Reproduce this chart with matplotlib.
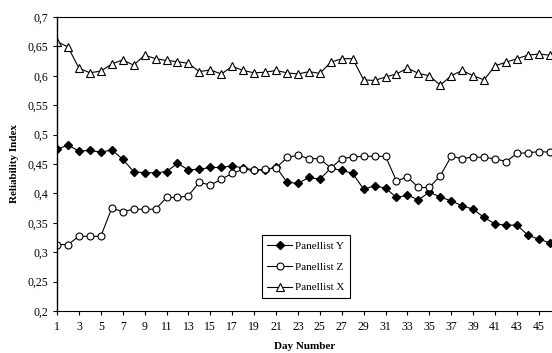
import numpy as np
import matplotlib
matplotlib.use("Agg")
import matplotlib.pyplot as plt

days = list(range(1, 47))
panellist_y = [0.475, 0.482, 0.472, 0.473, 0.470, 0.474, 0.458, 0.437, 0.435, 0.435,
               0.437, 0.451, 0.440, 0.441, 0.444, 0.444, 0.447, 0.443, 0.440, 0.440,
               0.445, 0.419, 0.417, 0.427, 0.424, 0.443, 0.439, 0.434, 0.407, 0.413,
               0.409, 0.393, 0.397, 0.389, 0.402, 0.394, 0.387, 0.379, 0.373, 0.359,
               0.348, 0.346, 0.346, 0.329, 0.322, 0.316]
panellist_z = [0.313, 0.313, 0.327, 0.327, 0.327, 0.375, 0.369, 0.373, 0.373, 0.373,
               0.393, 0.393, 0.396, 0.419, 0.414, 0.424, 0.434, 0.441, 0.439, 0.441,
               0.443, 0.461, 0.465, 0.459, 0.459, 0.443, 0.459, 0.462, 0.463, 0.463,
               0.463, 0.421, 0.428, 0.410, 0.410, 0.430, 0.463, 0.459, 0.462, 0.461,
               0.459, 0.454, 0.468, 0.469, 0.471, 0.470]
panellist_x = [0.658, 0.649, 0.613, 0.605, 0.608, 0.620, 0.627, 0.618, 0.635, 0.629,
               0.626, 0.624, 0.621, 0.607, 0.610, 0.603, 0.616, 0.609, 0.605, 0.606,
               0.609, 0.605, 0.603, 0.607, 0.604, 0.623, 0.629, 0.629, 0.593, 0.592,
               0.598, 0.603, 0.613, 0.604, 0.600, 0.584, 0.600, 0.609, 0.600, 0.593,
               0.617, 0.623, 0.629, 0.635, 0.637, 0.635]
y_ticks = [0.2, 0.25, 0.3, 0.35, 0.4, 0.45, 0.5, 0.55, 0.6, 0.65, 0.7]
x_ticks = list(range(1, 46, 2))

plt.rcParams['font.family'] = ['Liberation Serif', 'DejaVu Serif']

fig = plt.figure(figsize=(5.52, 3.53), dpi=100)
ax = fig.add_axes([0.1033, 0.119, 0.8967, 0.833])

ax.plot(days, panellist_y, color='black', lw=0.8, marker='D', ms=3.6,
        mfc='black', mec='black', label='Panellist Y')
ax.plot(days, panellist_z, color='black', lw=0.8, marker='o', ms=5,
        mfc='white', mec='black', mew=0.8, label='Panellist Z')
ax.plot(days, panellist_x, color='black', lw=0.8, marker='^', ms=5.5,
        mfc='white', mec='black', mew=0.8, label='Panellist X')

ax.set_xlim(1, 46.2)
ax.set_ylim(0.2, 0.7)
ax.set_yticks(y_ticks)
ax.set_yticklabels([('%g' % v).replace('.', ',') for v in y_ticks])
ax.set_xticks(x_ticks)
ax.tick_params(axis='both', labelsize=8.5, length=3, width=0.8, direction='out')
ax.tick_params(axis='x', pad=4)

ax.spines['right'].set_visible(False)
ax.spines['top'].set_linestyle((0, (1, 1)))
ax.spines['top'].set_linewidth(0.8)
ax.spines['left'].set_linewidth(1.0)
ax.spines['bottom'].set_linewidth(0.8)

ax.set_ylabel('Reliability Index', fontsize=8, fontweight='bold', labelpad=6)
ax.set_xlabel('Day Number', fontsize=8, fontweight='bold', labelpad=7)

leg = ax.legend(loc='lower left', bbox_to_anchor=(0.414, 0.044), fontsize=8,
                frameon=True, fancybox=False, edgecolor='black', framealpha=1,
                handlelength=2.2, handletextpad=0.3, borderpad=0.5,
                labelspacing=1.0, borderaxespad=0)
leg.get_frame().set_linewidth(0.8)

fig.savefig('out.png', dpi=100)
